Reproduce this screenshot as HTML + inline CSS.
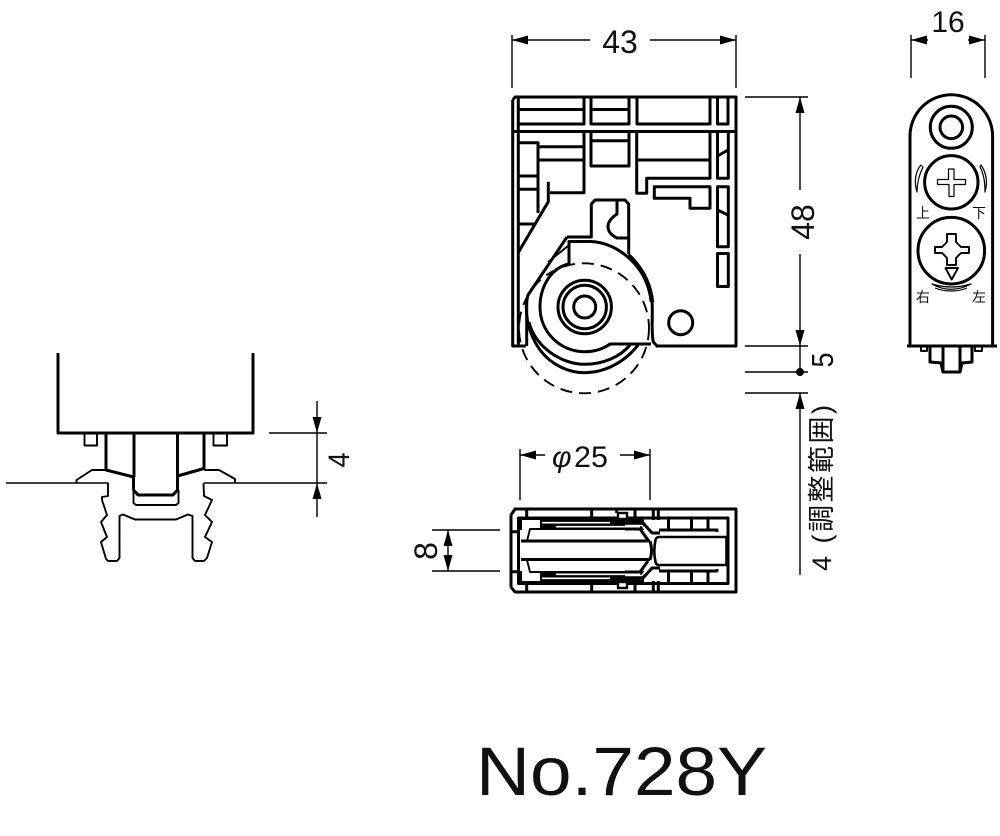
<!DOCTYPE html>
<html><head><meta charset="utf-8"><style>
html,body{margin:0;padding:0;background:#fff}
svg{display:block}
text{font-family:"Liberation Sans","Noto Sans CJK JP",sans-serif;fill:#111}
.h{fill:none;stroke:#000;stroke-width:3;stroke-linejoin:round}
.m{fill:none;stroke:#000;stroke-width:1.9;stroke-linejoin:round}
.t{fill:none;stroke:#000;stroke-width:1.2;stroke-linejoin:round}
.d{fill:none;stroke:#000;stroke-width:1.4}
</style></head><body>
<svg width="1000" height="836" viewBox="0 0 1000 836" xmlns="http://www.w3.org/2000/svg">

<!-- LEFT VIEW -->
<path class="h" d="M58,353V433H253V353"/>
<path class="m" d="M84.500,433V445.500H97V433M213.500,433V445.500H227V433"/>
<path class="h" d="M106,433V470L133.500,477V490L138,495H173L177.500,490V476L204,468.500V433M134,433V477M177.500,433V477"/>
<path class="m" d="M133.500,490V503L136,505H176L178.500,503V490"/>
<path class="m" d="M106,470H92L76.500,480L76.500,483M204,470H219L235,479V483"/>
<path class="d" d="M6,483H108M204,483H327M269,433H327"/>
<path class="m" d="M108,483V496L102,497V500L107,515L101,522L107,537L101,542L106,559L108,561H117L119.500,558V516L123,514.500L135,519.500H176L188,514.500L192.500,516V558L195,561H204L207,558L212,542L205,537L212,522L205,515L212,500L204,496L203.500,483"/>
<path class="d" d="M317,401V517"/>
<polygon points="317,433 312.500,417 321.500,417"/><polygon points="317,483 312.500,499 321.500,499"/>
<text transform="translate(349,460) rotate(-90)" font-size="30" text-anchor="middle" textLength="15" lengthAdjust="spacingAndGlyphs">4</text>

<!-- MAIN VIEW: dims -->
<path class="d" d="M512,35V88M736,35V88M512,40H590M650,40H736"/>
<polygon points="512,40 528,35.500 528,44.500"/><polygon points="736,40 720,35.500 720,44.500"/>
<text x="620" y="53" font-size="32" text-anchor="middle">43</text>
<path class="d" d="M745,97H808M745,346H808M745,372H808M745,393H808M800,97V190M800,254V346M800,346V374M800,393V575"/>
<polygon points="800,97 795.500,113 804.500,113"/><polygon points="800,346 795.500,330 804.500,330"/>
<polygon points="800,393 795.500,409 804.500,409"/>
<circle cx="800" cy="372" r="4" fill="#000"/>
<text transform="translate(814,222) rotate(-90)" font-size="32" text-anchor="middle">48</text>
<text transform="translate(833,360) rotate(-90)" font-size="31" text-anchor="middle" textLength="15" lengthAdjust="spacingAndGlyphs">5</text>
<text transform="translate(831,571) rotate(-90)" font-size="27" textLength="166">4 (調整範囲)</text>

<!-- MAIN VIEW: body -->
<path class="h" d="M512.700,100L515,97H736V346H656M526,346H512.700V100M518.300,97V346"/>
<path class="h" d="M512.700,131.500H736"/>
<path class="h" d="M518,124H584V97M518,109.500H584M591,97V124H629V97M591,109.500H629M637,97V124H710V97M717.500,97V124H728V97"/>
<path class="h" d="M584,131.500V192.700H550M539,146.700H584M539,160H584M518,142.700H538V213M518,176H538M518,189.300H538M518,224H535M548.300,181.700V201.700L518,253"/>
<path class="h" d="M591,131.500V166H629V131.500M591,140.700H629"/>
<path class="h" d="M636.700,131.500V193.300H646.700V178.300H710V131.500M637,160H710"/>
<path class="h" d="M654.300,186.700H710V208.300H690V198.300H654.300Z"/>
<path class="h" d="M717.500,131.500V178.300H728.300V131.500M717.500,156L728,150"/>
<rect class="h" x="717.500" y="186.700" width="10.800" height="60"/>
<path class="h" d="M717.500,210L728,215"/>
<rect class="h" x="717.500" y="253.500" width="10.800" height="33"/>
<circle class="h" cx="680.700" cy="322.700" r="12"/>

<!-- post & cam -->
<path class="h" d="M567,237H591.300V204L595,200H625L628.700,204V254"/>
<path class="h" d="M617,200V214C605,222 605,232 617,238H628.700"/>
<path class="h" d="M569,265V241.500H590C620,242 648,270 652,300C653,315 651,332 653.300,342L657,346"/>
<path d="M628,255C642,268 650,284 652,302" fill="none" stroke="#000" stroke-width="4.500"/>
<path class="h" d="M567,237L528,295C524,310 527,332 540,350C552,366 570,372.700 584.700,372.700C605,372.700 625,362 638,345"/>
<path class="h" d="M529,322C534,345 560,364.300 584.700,364.300C603,364.300 620,357 630,345"/>
<path class="h" d="M569,264C550,268 540,288 540,307C540,332 560,351.700 584.700,351.700C595,351.700 603,349 610,344H651"/>
<path class="m" d="M568,246L548,262"/>
<path class="h" d="M526.700,298V346"/>
<circle class="h" cx="584.700" cy="307" r="26.700"/>
<circle class="h" cx="584.700" cy="307" r="21.700"/>
<circle class="h" cx="584.700" cy="307" r="11"/>
<circle cx="584" cy="328.300" r="65" fill="none" stroke="#000" stroke-width="1.900" stroke-dasharray="12 7"/>

<!-- RIGHT VIEW -->
<path class="d" d="M911,35V78M985,35V78M911,40H928M968,40H985"/>
<polygon points="911,40 927,35.500 927,44.500"/><polygon points="985,40 969,35.500 969,44.500"/>
<text x="948" y="32" font-size="30" text-anchor="middle">16</text>
<path class="h" d="M910,346V136A41.300,41.300 0 0 1 992.600,136V346M907,346H997"/>
<circle class="h" cx="951.300" cy="127.300" r="21"/>
<circle class="h" cx="951.300" cy="127.300" r="11.300"/>
<circle class="h" cx="951.300" cy="182.300" r="26.700"/>
<circle class="h" cx="951.300" cy="250.700" r="33.300"/>
<path class="t" d="M948.500,169H954V179.500H965.500V184.500H954V196.500H949V184.500H937.500V179.500H948.500Z"/>
<path class="m" d="M947,234H956V242L961,247H969V253H961L956,258V265H947V258L942,253H935V247H942L947,242Z"/>
<path class="m" d="M945.500,268H958L951.700,279.500Z"/>
<path class="t" d="M921,165C915,172 914,182 917,192C917,183 919,175 923,167ZM981,165C986,172 988,182 985,192C985,183 984,174 980,167Z"/>
<path class="t" d="M932,284C944,291 958,291 971,284C958,288 945,288 932,284ZM935,288C945,292 958,292 967,288"/>
<text x="923" y="218" font-size="14" text-anchor="middle" fill="#333">上</text>
<text x="979" y="218" font-size="14" text-anchor="middle" fill="#333">下</text>
<text x="923" y="302" font-size="14" text-anchor="middle" fill="#333">右</text>
<text x="979" y="302" font-size="14" text-anchor="middle" fill="#333">左</text>
<path class="m" d="M921,346V351H927V346M975,346V351H982V346"/>
<path class="h" d="M930,346V362L941,363L943,372H960L962,363L972,362V346M943,347V372M960,347V372"/>

<!-- BOTTOM VIEW -->
<path class="d" d="M520,449V500M650,449V500M520,455H545M620,455H650"/>
<polygon points="520,455 536,450.500 536,459.500"/><polygon points="650,455 634,450.500 634,459.500"/>
<text x="552" y="467" font-size="30" font-style="italic">φ</text><text x="574" y="467" font-size="30" textLength="34" lengthAdjust="spacingAndGlyphs">25</text>
<path class="d" d="M432,530H500M432,571H500M448,530V571"/>
<polygon points="448,530 443.500,546 452.500,546"/><polygon points="448,571 443.500,555 452.500,555"/>
<text transform="translate(437,551) rotate(-90)" font-size="32" text-anchor="middle">8</text>

<!-- dark bands -->
<rect x="518" y="518" width="126" height="12" fill="#000"/>
<rect x="518" y="571" width="126" height="12" fill="#000"/>
<polygon points="522,520 540,520 540,528 530,529 527,540 522,540" fill="#fff"/>
<polygon points="522,581 540,581 540,573 530,572 527,561 522,561" fill="#fff"/>
<path d="M542,522.700H610M556,526.700H612L640,526.700M542,578.300H610M556,574.300H612L640,574.300" stroke="#fff" stroke-width="1.600" fill="none"/>

<path class="h" d="M511,515L515,509H736V592H515L511,587Z"/>
<path class="h" d="M518.500,518H728V583.500H518.500Z"/>
<path class="h" d="M511,531.700H518.500M511,571.700H518.500M526.700,509V518M526.700,583V592M591.700,509V518M591.700,583V592M616.700,509V513M635,509V518M635,583V592M653.300,509V520M653.300,581V592M658.300,509V520M658.300,581V592"/>
<rect x="618" y="513" width="9" height="6" fill="#fff" stroke="#000" stroke-width="2.400"/><rect x="618" y="582" width="9" height="6" fill="#fff" stroke="#000" stroke-width="2.400"/>

<path d="M625,530H642L650,538V563L642,571H625Z" fill="#fff"/>
<path class="h" d="M640,519.500L644,524L652,533H660M640,581.500L644,577L652,568H660"/>
<path class="h" d="M625,529H640L648,540M625,572H640L648,561"/>
<path d="M625,525.500H642L650,536.700M625,575.500H642L650,564.300" stroke="#fff" stroke-width="1.500" fill="none"/>
<path class="h" d="M668.500,518V530M691.500,518V530M708,518V530M668.500,571V583M691.500,571V583M708,571V583M659,530H717V532M659,571H717V569"/>

<path class="h" d="M521,541H650M521,559.500H650"/>
<path class="m" d="M527,541L530,529H625M527,560L530,572H625"/>
<path class="h" d="M650,541C652,548 652,553 650,560"/>
<path d="M655.500,540C656,538 657,537 659,537H726.500V565H659C657,565 656,564 655.500,562C654,555 654,547 655.500,540Z" fill="#fff" stroke="#000" stroke-width="2.600"/>

<text x="476" y="795" font-size="69" textLength="291" lengthAdjust="spacingAndGlyphs">No.728Y</text>
</svg>
</body></html>
